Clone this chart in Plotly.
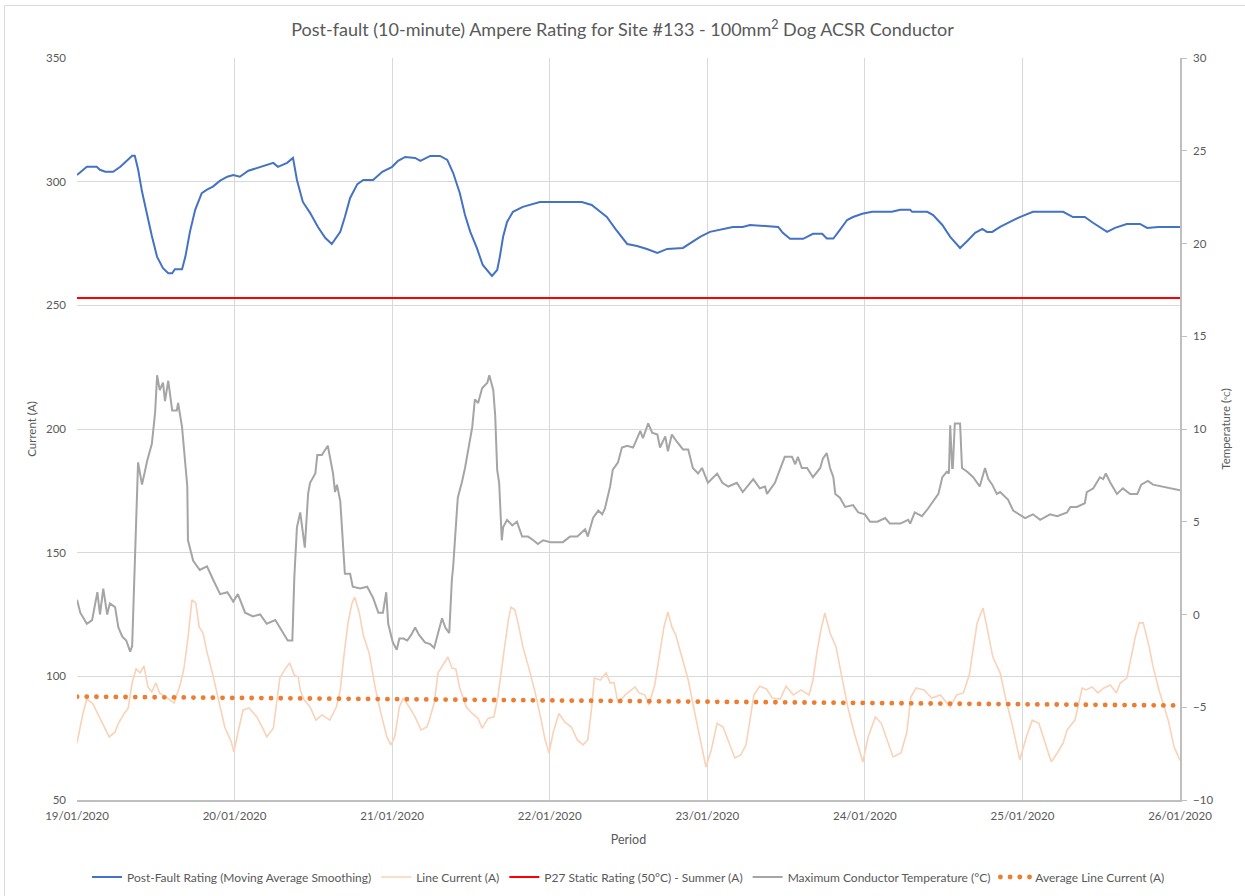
import pandas as pd
import plotly.graph_objects as go

START = pd.Timestamp("2020-01-19 00:00")

# ---- Post-fault rating (A) ----
rating_hours = [0.0, 1.5, 3.0, 3.5, 4.3, 5.5, 6.6, 7.6, 8.4, 8.8, 9.3, 9.9, 10.7, 11.4, 12.2, 13.1,
                13.9, 14.5, 14.9, 16.0, 16.5, 17.2, 18.0, 19.0, 19.8, 20.7, 21.8, 22.9, 23.8, 24.8,
                26.1, 27.4, 28.3, 29.9, 30.6, 32.0, 32.9, 33.5, 34.4, 35.5, 36.7, 37.8, 38.8, 40.1,
                40.8, 41.6, 42.7, 43.6, 45.1, 46.5, 48.0, 48.9, 50.0, 51.5, 52.3, 53.8, 55.3, 56.4,
                57.3, 58.3, 59.1, 59.9, 60.9, 61.8, 63.2, 64.0, 64.4, 64.9, 65.5, 66.4, 67.9, 69.5,
                70.5, 76.9, 78.4, 79.7, 80.7, 82.0, 83.8, 85.3, 86.8, 88.4, 89.9, 92.3, 93.8, 94.9,
                96.4, 98.4, 99.9, 101.4, 102.5, 106.8, 107.5, 108.6, 110.6, 112.1, 113.5, 114.2,
                115.2, 116.2, 117.3, 118.2, 119.6, 121.1, 124.1, 125.4, 126.9, 127.2, 129.5, 130.4,
                131.8, 133.0, 134.5, 135.6, 136.8, 137.9, 138.6, 139.4, 140.6, 142.1, 143.6, 145.6,
                150.2, 151.7, 153.5, 154.8, 156.9, 158.1, 159.9, 161.9, 163.0, 164.7, 168.0]
rating_amps = [302.7, 306.0, 306.0, 304.8, 304.0, 304.0, 306.0, 308.5, 310.5, 310.5, 305.0, 296.0,
               286.0, 278.0, 269.6, 265.0, 263.0, 263.0, 264.6, 264.6, 269.6, 279.7, 288.6, 295.4,
               296.8, 298.0, 300.4, 302.0, 302.7, 302.0, 304.4, 305.6, 306.4, 307.6, 306.0, 307.6,
               309.6, 300.7, 291.8, 287.4, 281.7, 277.3, 274.8, 279.7, 285.7, 293.4, 299.0, 300.7,
               300.7, 304.0, 306.0, 308.4, 310.0, 309.6, 308.4, 310.4, 310.4, 308.8, 303.5, 295.4,
               286.5, 279.7, 273.2, 266.3, 261.9, 264.3, 269.6, 277.7, 283.7, 287.8, 289.8, 291.0,
               291.8, 291.8, 290.6, 287.8, 285.7, 280.9, 274.8, 274.0, 272.8, 271.2, 272.8, 273.2,
               275.6, 277.7, 279.7, 280.9, 281.7, 281.7, 282.5, 281.7, 279.3, 276.9, 276.9, 278.9,
               278.9, 277.0, 277.0, 280.5, 284.5, 285.7, 287.0, 287.8, 287.8, 288.6, 288.6, 287.8,
               287.8, 286.5, 282.5, 277.7, 273.2, 276.0, 279.3, 280.9, 279.7, 279.7, 281.7, 283.7,
               285.7, 287.8, 287.8, 285.7, 285.7, 283.3, 279.7, 281.3, 282.9, 282.9, 281.3, 281.7,
               281.7]

# ---- Line current (A) ----
current_hours = [0.0, 0.9, 1.5, 2.4, 3.4, 4.0, 4.9, 5.8, 6.3, 7.2, 7.8, 8.4, 9.0, 9.6, 10.2, 10.8,
                 11.4, 12.0, 12.6, 13.6, 14.8, 15.7, 16.3, 16.9, 17.5, 18.1, 18.6, 19.2, 19.8, 20.7,
                 21.6, 22.5, 23.5, 23.9, 24.7, 25.3, 26.2, 27.4, 28.3, 28.9, 29.9, 30.3, 30.9, 31.8,
                 32.4, 33.1, 33.7, 34.0, 34.6, 35.5, 36.4, 37.3, 38.5, 39.5, 40.1, 40.7, 41.3, 41.9,
                 42.3, 43.0, 43.6, 44.5, 45.4, 46.3, 47.2, 47.8, 48.4, 49.1, 49.7, 50.6, 51.5, 52.4,
                 53.3, 53.8, 54.4, 55.0, 55.6, 56.5, 57.1, 57.7, 58.3, 59.3, 60.2, 61.1, 61.7, 62.6,
                 63.5, 64.1, 65.0, 65.7, 66.1, 66.7, 67.3, 67.9, 68.9, 69.8, 70.7, 71.3, 71.9, 72.5,
                 73.4, 74.3, 75.3, 76.2, 77.1, 77.8, 78.4, 78.8, 79.7, 80.6, 81.2, 81.8, 82.4, 83.5,
                 85.0, 85.6, 86.5, 87.1, 88.0, 88.7, 89.4, 90.0, 90.6, 91.2, 92.2, 93.1, 94.0, 94.9,
                 95.8, 96.6, 97.5, 98.4, 99.3, 100.2, 101.1, 101.9, 102.5, 103.1, 104.0, 105.0,
                 105.9, 107.1, 108.0, 109.1, 110.3, 111.5, 112.1, 112.7, 113.3, 113.9, 114.7, 115.6,
                 116.5, 117.4, 118.4, 119.7, 120.5, 121.6, 122.5, 123.4, 124.3, 125.5, 126.4, 127.0,
                 127.8, 129.0, 130.2, 131.5, 133.0, 134.0, 135.0, 135.9, 136.5, 137.1, 138.0, 138.6,
                 139.5, 140.6, 141.5, 142.4, 143.6, 144.6, 145.5, 146.5, 147.5, 148.4, 149.3, 150.2,
                 150.8, 152.0, 153.1, 153.7, 154.6, 155.5, 156.4, 157.4, 158.3, 158.9, 159.9, 160.5,
                 161.2, 161.8, 162.4, 163.3, 163.9, 164.8, 166.2, 167.1, 168.0]
current_amps = [73.0, 85.0, 90.8, 89.0, 83.6, 80.3, 75.5, 77.5, 81.0, 85.0, 87.2, 97.3, 103.0, 101.4,
                104.2, 95.7, 93.7, 97.3, 93.2, 91.6, 89.2, 96.5, 103.4, 115.5, 130.9, 129.7, 120.0,
                117.5, 109.8, 100.5, 90.4, 79.5, 73.5, 69.5, 79.5, 86.4, 87.2, 83.6, 79.0, 75.5, 79.0,
                87.6, 99.3, 103.4, 105.4, 100.5, 99.7, 94.5, 90.4, 87.6, 82.3, 84.4, 82.3, 87.6, 94.5,
                109.4, 122.0, 129.7, 132.0, 125.6, 116.7, 109.4, 95.7, 85.0, 75.5, 72.3, 75.5, 87.6,
                91.2, 87.6, 83.6, 78.3, 79.5, 83.6, 89.2, 101.4, 103.8, 107.8, 103.4, 103.0, 95.3,
                87.6, 85.0, 83.0, 79.0, 83.0, 83.6, 91.6, 109.4, 122.8, 128.0, 126.8, 120.0, 112.0,
                102.6, 93.3, 82.3, 74.3, 69.0, 77.0, 85.0, 81.5, 79.5, 74.3, 72.3, 74.3, 87.6, 99.3,
                98.5, 101.4, 97.3, 97.5, 89.2, 92.5, 95.7, 93.3, 92.5, 88.4, 96.5, 107.8, 120.0,
                126.0, 120.0, 116.7, 106.6, 98.5, 86.4, 75.5, 63.3, 70.2, 81.0, 79.5, 73.0, 67.0,
                68.2, 72.3, 82.3, 92.5, 96.0, 94.9, 91.2, 90.8, 96.0, 92.5, 94.5, 92.5, 98.5, 109.8,
                118.7, 125.6, 117.5, 112.0, 99.7, 87.6, 77.0, 65.4, 75.5, 83.6, 81.0, 74.3, 67.4,
                69.0, 77.5, 91.6, 95.3, 94.5, 91.2, 92.5, 87.6, 92.5, 93.3, 100.5, 112.0, 121.6,
                127.6, 120.0, 107.8, 101.4, 90.4, 81.0, 66.2, 75.5, 82.3, 81.0, 73.0, 65.4, 69.0,
                73.0, 78.3, 82.3, 95.3, 94.5, 95.7, 93.3, 95.3, 96.5, 93.3, 97.3, 99.3, 107.4, 116.0,
                121.6, 121.6, 112.0, 103.8, 94.5, 82.3, 71.5, 66.0]

# ---- P27 static rating (A) ----
static_hours = [0.0, 168.0]
static_amps = [253.0, 253.0]

# ---- Maximum conductor temperature (degC) ----
temp_hours = [0.0, 0.5, 1.5, 2.3, 3.1, 3.5, 4.0, 4.6, 5.0, 5.8, 6.3, 6.9, 7.5, 8.1, 8.4, 9.3, 9.9,
              10.7, 11.4, 11.9, 12.2, 12.6, 13.1, 13.4, 13.9, 14.5, 15.2, 15.4, 16.0, 16.8, 16.9,
              17.7, 18.7, 19.8, 20.7, 21.8, 22.9, 23.8, 24.5, 25.6, 26.8, 27.9, 28.9, 30.2, 31.4,
              32.1, 32.8, 33.1, 33.5, 34.0, 34.7, 35.2, 35.5, 36.3, 36.6, 37.3, 38.2, 39.0, 39.3,
              39.6, 40.1, 40.5, 40.8, 41.6, 42.0, 43.1, 44.2, 45.1, 45.9, 46.6, 47.1, 47.4, 48.1,
              48.7, 49.1, 49.7, 50.3, 50.9, 51.5, 52.1, 53.0, 53.8, 54.4, 55.0, 55.6, 56.1, 56.7,
              57.1, 57.3, 57.6, 58.0, 58.6, 59.1, 59.6, 60.2, 60.6, 61.1, 61.7, 62.5, 62.8, 63.4,
              63.7, 64.0, 64.3, 64.7, 64.9, 65.5, 66.3, 67.0, 67.8, 68.7, 69.5, 70.2, 71.0, 72.1,
              74.0, 75.1, 76.2, 77.4, 77.8, 78.6, 79.4, 80.0, 80.4, 81.2, 81.6, 82.4, 83.0, 83.8,
              84.7, 85.8, 86.2, 87.0, 87.6, 88.4, 88.8, 89.6, 90.0, 90.6, 91.4, 92.3, 93.1, 93.8,
              94.6, 95.2, 96.1, 97.5, 98.3, 99.2, 100.5, 101.4, 103.0, 104.0, 104.8, 105.1, 106.3,
              107.1, 107.8, 108.9, 109.4, 109.8, 110.4, 111.2, 112.1, 113.2, 113.6, 114.2, 114.7,
              115.2, 115.5, 116.2, 117.0, 118.2, 119.0, 120.0, 120.8, 121.9, 123.1, 123.8, 125.4,
              126.6, 126.9, 127.6, 128.7, 129.6, 130.4, 131.2, 131.8, 132.5, 132.8, 133.0, 133.3,
              133.4, 133.7, 134.5, 134.8, 135.6, 136.5, 137.5, 138.3, 138.8, 139.4, 140.1, 140.6,
              141.8, 142.6, 143.6, 144.4, 145.6, 146.7, 148.2, 149.3, 150.8, 151.3, 152.3, 153.5,
              153.8, 154.8, 155.8, 156.3, 156.7, 157.4, 158.4, 159.3, 160.4, 161.5, 162.1, 163.1,
              163.9, 165.4, 166.5, 168.0]
temp_degc = [0.8, 0.1, -0.5, -0.3, 1.2, 0.0, 1.4, 0.0, 0.6, 0.4, -0.7, -1.2, -1.4, -2.0, -1.7, 8.2,
             7.0, 8.3, 9.2, 10.9, 12.9, 12.1, 12.5, 11.5, 12.6, 11.0, 11.0, 11.4, 10.1, 6.9, 4.0, 2.9,
             2.4, 2.6, 1.9, 1.1, 1.2, 0.7, 1.1, 0.1, -0.1, 0.0, -0.5, -0.3, -1.0, -1.4, -1.4, 2.0,
             4.7, 5.5, 3.6, 6.5, 7.1, 7.6, 8.6, 8.6, 9.1, 7.6, 6.6, 7.0, 6.1, 3.6, 2.2, 2.2, 1.5,
             1.4, 1.5, 0.9, 0.1, 0.1, 1.2, -0.5, -1.5, -1.9, -1.3, -1.3, -1.4, -1.1, -0.7, -1.1,
             -1.5, -1.6, -1.8, -1.0, -0.2, -0.7, -1.0, 1.9, 2.6, 4.2, 6.3, 7.1, 7.9, 8.9, 10.1, 11.6,
             11.4, 12.2, 12.5, 12.9, 12.1, 10.7, 7.8, 7.1, 4.0, 4.7, 5.1, 4.8, 5.0, 4.2, 4.2, 4.0,
             3.8, 4.0, 3.9, 3.9, 4.2, 4.2, 4.6, 4.2, 5.2, 5.6, 5.4, 5.7, 6.9, 7.8, 8.2, 9.0, 9.1, 9.0,
             9.9, 9.5, 10.3, 9.8, 9.7, 9.0, 9.6, 8.8, 9.7, 9.3, 8.9, 8.9, 7.9, 7.6, 7.9, 7.1, 7.6,
             7.1, 6.9, 7.1, 6.6, 7.3, 6.8, 6.9, 6.5, 7.1, 7.9, 8.5, 8.5, 8.1, 8.5, 7.9, 7.9, 7.4,
             7.9, 8.4, 8.7, 7.9, 7.4, 6.5, 6.3, 5.8, 5.9, 5.5, 5.4, 5.0, 5.0, 5.2, 4.9, 4.9, 5.1,
             4.9, 5.5, 5.3, 5.7, 6.1, 6.5, 7.4, 7.7, 7.6, 10.2, 7.9, 7.9, 10.3, 10.3, 7.9, 7.7, 7.4,
             6.9, 7.9, 7.3, 7.0, 6.5, 6.6, 6.2, 5.6, 5.4, 5.2, 5.4, 5.1, 5.4, 5.3, 5.5, 5.8, 5.8,
             6.0, 6.6, 6.8, 7.4, 7.3, 7.6, 7.1, 6.5, 6.8, 6.5, 6.5, 7.0, 7.2, 7.0, 6.9, 6.8, 6.7]

# ---- Average line current (A) ----
avg_hours = [0.0, 168.0]
avg_amps = [91.8, 88.2]


def to_time(hours):
    return [START + pd.Timedelta(hours=h) for h in hours]


FONT = "Lato, 'Open Sans', sans-serif"
TXT = "#595959"

fig = go.Figure()
fig.add_trace(go.Scatter(x=to_time(rating_hours), y=rating_amps, mode="lines",
                         name="Post-Fault Rating (Moving Average Smoothing)",
                         line=dict(color="#4472c4", width=2)))
fig.add_trace(go.Scatter(x=to_time(current_hours), y=current_amps, mode="lines",
                         name="Line Current (A)",
                         line=dict(color="#f9d2b8", width=1.6)))
fig.add_trace(go.Scatter(x=to_time(static_hours), y=static_amps, mode="lines",
                         name="P27 Static Rating (50°C) - Summer (A)",
                         line=dict(color="#ff0000", width=2)))
fig.add_trace(go.Scatter(x=to_time(avg_hours), y=avg_amps, mode="lines",
                         name="Average Line Current (A)", legendrank=1005,
                         line=dict(color="#ed7d31", width=4.8, dash="4.5px,5.1px")))
fig.add_trace(go.Scatter(x=to_time(temp_hours), y=temp_degc, mode="lines", yaxis="y2",
                         name="Maximum Conductor Temperature (°C)", legendrank=1004,
                         line=dict(color="#a5a5a5", width=2)))

fig.update_layout(
    width=1245, height=896,
    margin=dict(l=77, r=65, t=58, b=96, autoexpand=False),
    paper_bgcolor="white", plot_bgcolor="white",
    font=dict(family=FONT, size=11.5, color=TXT),
    title=dict(text="Post-fault (10-minute) Ampere Rating for Site #133 - 100mm<sup>2</sup> Dog ACSR Conductor",
               x=0.5, xanchor="center", y=1 - 30 / 896, yanchor="middle", yref="container",
               font=dict(family=FONT, size=18, color=TXT)),
    xaxis=dict(type="date", range=[START, START + pd.Timedelta(days=7)],
               dtick=86400000, tick0=START, tickformat="%d/%m/%Y",
               showgrid=True, gridcolor="#d9d9d9", gridwidth=1,
               showline=True, linecolor="#bfbfbf", linewidth=1.5, ticks="",
               ticklabelstandoff=4, zeroline=False,
               title=dict(text="Period", standoff=15, font=dict(size=12.5))),
    yaxis=dict(range=[50, 350], dtick=50, showgrid=True, gridcolor="#d9d9d9", gridwidth=1,
               zeroline=False, showline=False, ticks="", ticklabelstandoff=10,
               title=dict(text="Current (A)", standoff=6, font=dict(size=11.5))),
    yaxis2=dict(range=[-10, 30], dtick=5, overlaying="y", side="right", showgrid=False,
                zeroline=False, showline=True, linecolor="#bfbfbf", linewidth=1.5,
                ticks="outside", ticklen=5, tickcolor="#bfbfbf", ticklabelstandoff=4,
                title=dict(text="Temperature (<span style='font-size:8px'>°C</span>)", standoff=10,
                           font=dict(size=11.5))),
    legend=dict(orientation="h", x=0.5, xanchor="center", y=-77 / 742, yanchor="middle",
                font=dict(family=FONT, size=12, color=TXT), traceorder="normal",
                itemwidth=30, bgcolor="rgba(0,0,0,0)"),
    shapes=[dict(type="rect", xref="paper", yref="paper",
                 x0=(4.5 - 77) / 1103, x1=(1260 - 77) / 1103,
                 y0=(800 - 910) / 742, y1=(800 - 5.5) / 742,
                 line=dict(color="#d9d9d9", width=1), fillcolor="rgba(0,0,0,0)", layer="below")],
)

post = """
document.body.style.margin = '0';
document.querySelectorAll('path.js-line').forEach(function (p) {
  if (p.style.stroke === 'rgb(237, 125, 49)') {
    p.style.strokeLinecap = 'round';
    p.style.strokeDasharray = '0.1px, 9.6px';
  }
});
"""
fig.write_html("out.html", post_script=post, config={"displayModeBar": False})
